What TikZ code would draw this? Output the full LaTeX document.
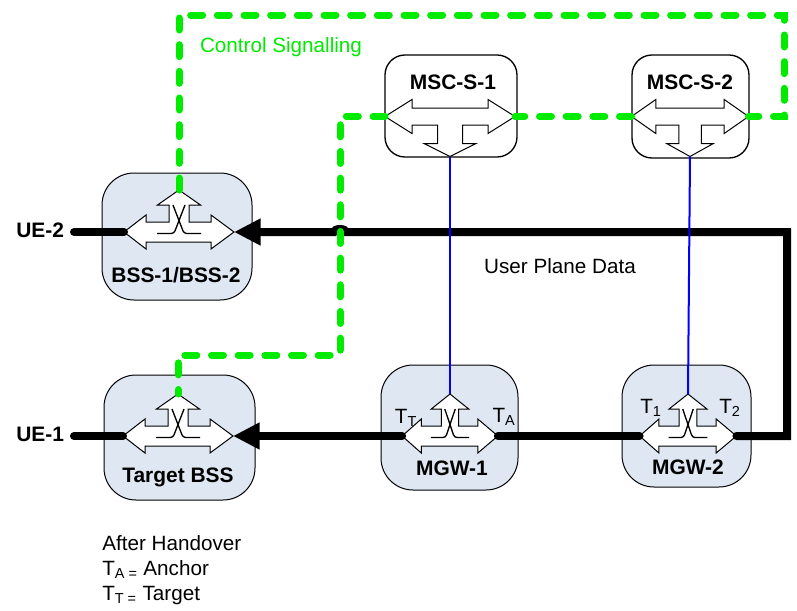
\documentclass[tikz,border=0pt]{standalone}
\usepackage{fontspec}
\setmainfont{Liberation Sans}
\usetikzlibrary{arrows.meta}
\definecolor{boxblue}{RGB}{222,231,242}
\definecolor{siggreen}{RGB}{0,235,0}
\tikzset{
  nodebox/.style={draw=black,line width=.75pt,fill=boxblue,rounded corners=24pt},
  mscbox/.style={draw=black,line width=1pt,fill=white,rounded corners=15pt},
  switchpart/.style={draw=black,line width=.75pt,fill=white},
  dataline/.style={line width=6pt,line cap=round},
  sigline/.style={siggreen,line width=5.25pt,line cap=round,dash pattern=on 9pt off 11pt},
  bearer/.style={blue,line width=1.5pt},
  boxlabel/.style={font=\fontsize{15.7}{18}\selectfont\bfseries},
  plainlabel/.style={font=\fontsize{15.5}{18.75}\selectfont},
  uelabel/.style={boxlabel,anchor=east,inner sep=1pt,outer sep=6.5pt},
  pics/bssswitch/.style={code={
    \draw[switchpart] (-55,0)--(-33,-17)--(-33,-10)--(-10,-10)--(-10,-27)--(-21.5,-27)--(0,-42)
      --(21.5,-27)--(10,-27)--(10,-10)--(32,-10)--(32,-17)--(55,0)--(32,17)--(32,10)
      --(-33,10)--(-33,17)--cycle;
    \draw[line width=1pt,rounded corners=2pt] (-6,-27)--(5,1.5)--(22,1.5) (6,-27)--(-5,1.5)--(-22,1.5);
    \coordinate (-l) at (-55,0); \coordinate (-r) at (55,0); \coordinate (-t) at (0,-42);
  }},
  pics/mscswitch/.style={code={
    \draw[switchpart] (-65,0)--(-38,-17)--(-38,-8.5)--(38,-8.5)--(38,-17)--(65,0)--(38,17)--(38,8.5)
      --(12.5,8.5)--(12.5,27)--(26,27)--(0,40)--(-26,27)--(-12.5,27)--(-12.5,8.5)
      --(-38,8.5)--(-38,17)--cycle;
    \coordinate (-l) at (-65,0); \coordinate (-r) at (65,0); \coordinate (-b) at (0,40);
  }}
}
\begin{document}
\begin{tikzpicture}[x=.75pt,y=-.75pt]
\useasboundingbox (0,0) rectangle (797,611);
% boxes
\draw[nodebox] (102,173) rectangle (252,300);
\draw[nodebox] (104,375) rectangle (255,500);
\draw[nodebox] (381,365) rectangle (518,490);
\draw[nodebox] (622,365) rectangle (751,487);
\draw[mscbox] (385,55) rectangle (517,157);
\draw[mscbox] (632,55) rectangle (749,158);
% switches
\pic (bss) at (179,232) {bssswitch};
\pic (tbss) at (178,436) {bssswitch};
\pic[xscale=.87] (mgw1) at (450,436) {bssswitch};
\pic[xscale=.88] (mgw2) at (688,436) {bssswitch};
\pic (msc1) at (450,116.5) {mscswitch};
\pic[xscale=.9] (msc2) at (690,116.5) {mscswitch};
\node[boxlabel] (bsstxt) at (176,275) {BSS-1/BSS-2};
\node[boxlabel] (tbsstxt) at (178,477) {Target BSS};
\node[boxlabel] (mgw1txt) at (452,468) {MGW-1};
\node[boxlabel] (mgw2txt) at (688,467) {MGW-2};
\node[boxlabel] (msc1txt) at (453,82) {MSC-S-1};
\node[boxlabel] (msc2txt) at (690,82) {MSC-S-2};
\node[uelabel] (ue2) at (74,230) {UE-2};
\node[uelabel] (ue1) at (74,434) {UE-1};
\node[plainlabel] (tt) at (406,418) {T\textsubscript{T}};
\node[plainlabel] (ta) at (504,417) {T\textsubscript{A}};
\node[plainlabel] (t1) at (651,408) {T\textsubscript{1}};
\node[plainlabel] (t2) at (730,408) {T\textsubscript{2}};
% user plane
\coordinate (dcorner) at (787,232);
\draw[dataline] (ue2.east |- bss-l)--(bss-l);
\draw[dataline] (ue1.east |- tbss-l)--(tbss-l);
\draw[dataline,-{Triangle[length=20pt,width=19pt]}] (mgw1-l)--(tbss-r);
\draw[dataline] (mgw1-r)--(mgw2-r -| mgw2-l);
\draw[dataline,-{Triangle[length=20pt,width=19pt]}] (mgw2-r)-|(dcorner)--(346,232)
  arc[start angle=0,end angle=-180,x radius=6,y radius=3]--(bss-r);
\draw[bearer] (msc1-b)--(mgw1-t);
\draw[bearer] (msc2-b)--(mgw2-t);
% signalling
\coordinate (stop) at (784,15);
\coordinate (sbend) at (340,355);
\draw[sigline] (bss-t)|-(stop)|-(msc2-r);
\draw[sigline] (msc2-l)--(msc1-r);
\draw[sigline] (msc1-l)-|(sbend)-|(tbss-t);
\node[plainlabel,text=siggreen] (ctrl) at (281,47) {Control Signalling};
\node[plainlabel] (upd) at (560,266) {User Plane Data};
\node[plainlabel,align=left,anchor=west,inner sep=0pt] (note) at (102,570)
  {After Handover\\T\textsubscript{A =} Anchor\\T\textsubscript{T =} Target};
\end{tikzpicture}
\end{document}
